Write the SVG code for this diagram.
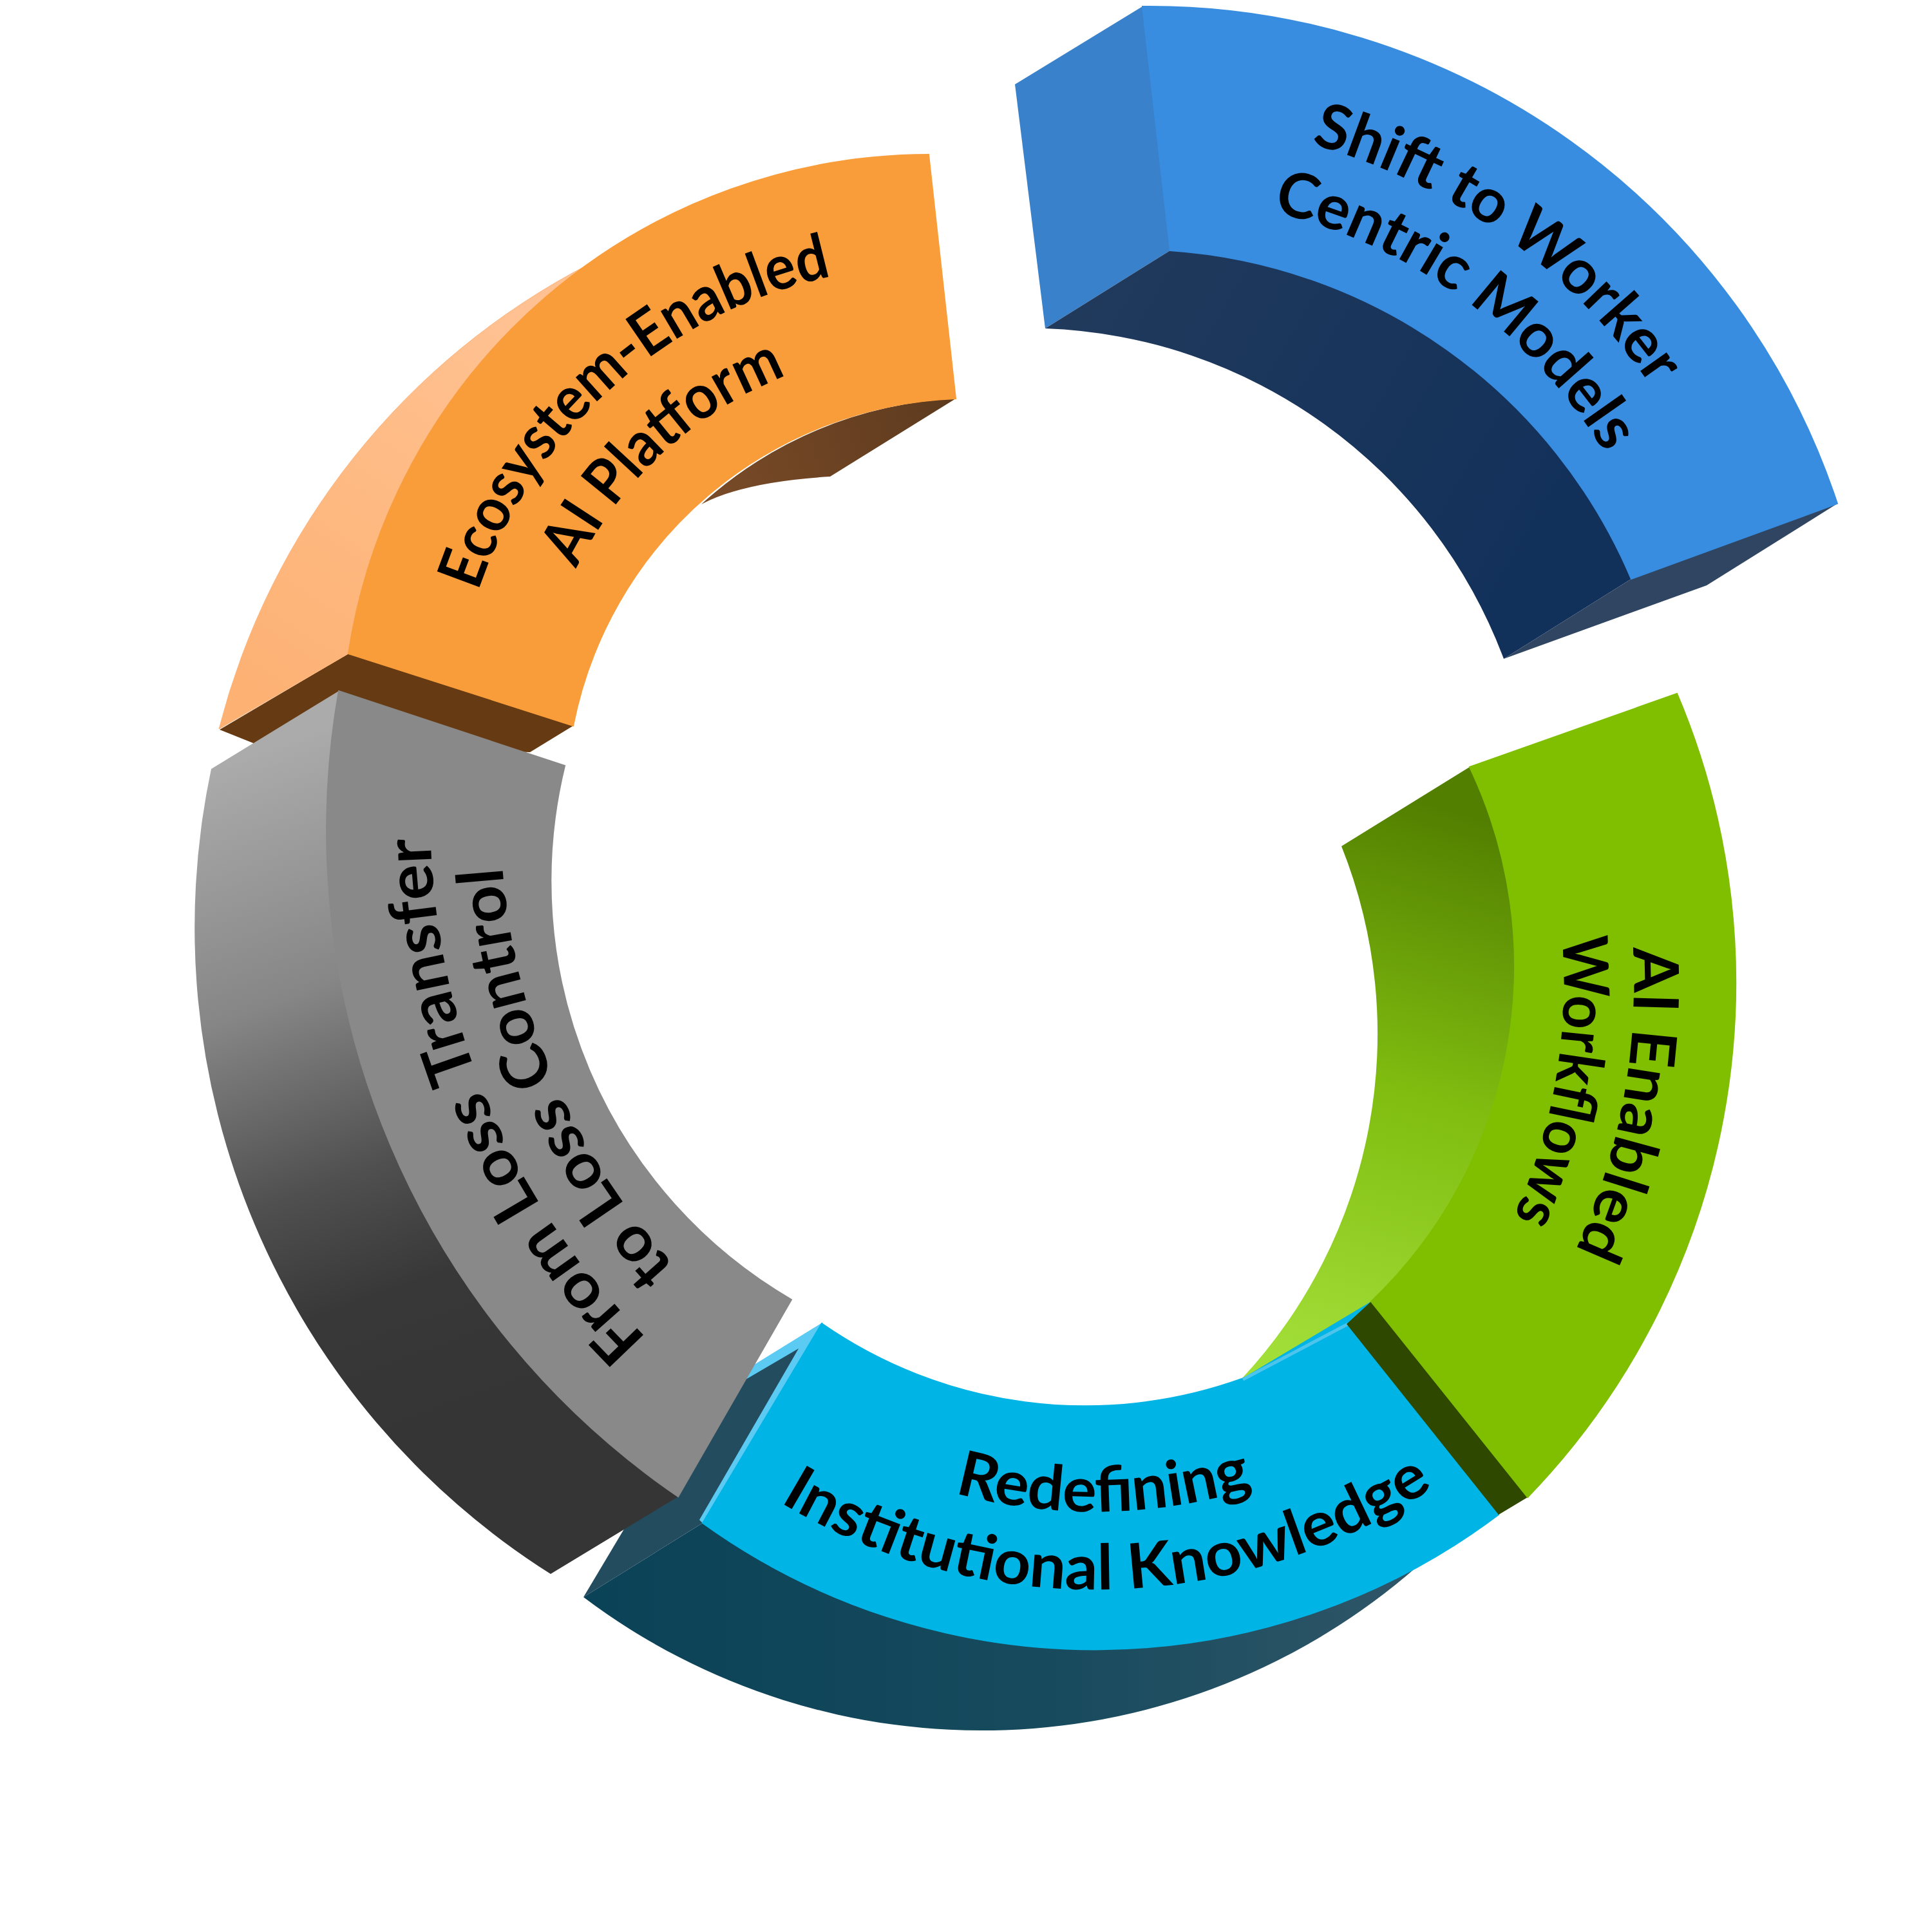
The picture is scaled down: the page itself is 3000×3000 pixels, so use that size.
<svg xmlns="http://www.w3.org/2000/svg" xmlns:xlink="http://www.w3.org/1999/xlink" width="3000" height="3000" viewBox="0 0 3000 3000">
<style>
.lbl{font-family:Lato,"Open Sans","DejaVu Sans",sans-serif;font-weight:700;font-size:97px;fill:#000}
</style>
<defs>
<linearGradient id="gOrLight" gradientUnits="userSpaceOnUse" x1="400" y1="1100" x2="800" y2="500"><stop offset="0" stop-color="#fdb173"/><stop offset="0.6" stop-color="#febb85"/><stop offset="1" stop-color="#ffc192"/></linearGradient>
<linearGradient id="gOrSide" gradientUnits="userSpaceOnUse" x1="1090" y1="780" x2="1480" y2="640"><stop offset="0" stop-color="#7a4b28"/><stop offset="1" stop-color="#5e3b1e"/></linearGradient>
<linearGradient id="gGray" gradientUnits="userSpaceOnUse" x1="330" y1="1190" x2="700" y2="2200"><stop offset="0" stop-color="#ababab"/><stop offset="0.35" stop-color="#868686"/><stop offset="0.62" stop-color="#505050"/><stop offset="0.8" stop-color="#383838"/><stop offset="1" stop-color="#353535"/></linearGradient>
<linearGradient id="gCyDark" gradientUnits="userSpaceOnUse" x1="900" y1="2500" x2="2200" y2="2500"><stop offset="0" stop-color="#0a4257"/><stop offset="0.55" stop-color="#174a5d"/><stop offset="1" stop-color="#2f5668"/></linearGradient>
<linearGradient id="gGrSide" gradientUnits="userSpaceOnUse" x1="2230" y1="1250" x2="1980" y2="2100"><stop offset="0" stop-color="#527f00"/><stop offset="0.5" stop-color="#80bd10"/><stop offset="1" stop-color="#a2de38"/></linearGradient>
<linearGradient id="gBlSide" gradientUnits="userSpaceOnUse" x1="1620" y1="500" x2="2400" y2="950"><stop offset="0" stop-color="#213a5c"/><stop offset="1" stop-color="#11305a"/></linearGradient>
<path id="tpB1" d="M1252,356 A943,943 0 0 1 2695,1385"/>
<path id="tpB2" d="M1324,448 A826,826 0 0 1 2580,1361"/>
<path id="tpO1" d="M756,1427 A741,741 0 0 1 1795,501"/>
<path id="tpO2" d="M879,1388 A612,612 0 0 1 1726,610"/>
<path id="tpG1" d="M1872,2406 A1137,1137 0 0 1 1024,445"/>
<path id="tpG2" d="M1866,2297 A1028,1028 0 0 1 1099,524"/>
<path id="tpC1" d="M926,1815 A829,829 0 0 0 2484,1788"/>
<path id="tpC2" d="M815,1863 A950,950 0 0 0 2600,1823"/>
<path id="tpW1" d="M2056,681 A986,986 0 0 1 1710,2501"/>
<path id="tpW2" d="M1987,767 A877,877 0 0 1 1708,2391"/>
</defs>
<rect width="3000" height="3000" fill="#ffffff"/>
<g id="connectors"/>

<g id="node-ecosystem">
<path d="M341,1133 L541,1015 L890,1127 L823,1168 L396,1155 Z" fill="#663a12"/>
<path d="M1484,619 L1289,740 Q1155,748 1089,783 A630,630 0 0 1 1484,619 Z" fill="url(#gOrSide)"/>
<path d="M340,1132 A1126,1126 0 0 1 915,410 A913,913 0 0 0 541,1015 Z" fill="url(#gOrLight)" stroke="#fdb57b" stroke-width="1"/>
<path d="M541,1015 A913,913 0 0 1 1442,240 L1484,619 A630,630 0 0 0 890,1127 Z" fill="#f99d3a" stroke="#f99d3a" stroke-width="2"/>
<text class="lbl"><textPath href="#tpO1" xlink:href="#tpO1" startOffset="50%" text-anchor="middle" textLength="770" lengthAdjust="spacingAndGlyphs">Ecosystem-Enabled</textPath></text>
<text class="lbl"><textPath href="#tpO2" xlink:href="#tpO2" startOffset="50%" text-anchor="middle" textLength="454" lengthAdjust="spacingAndGlyphs">AI Platform</textPath></text>
</g>

<g id="node-knowledge">
<path d="M906,2480 L1091,2365 A1043,1043 0 0 0 2200,2433 A1026,1026 0 0 1 906,2480 Z" fill="url(#gCyDark)"/>
<path d="M1091,2170 L1276,2055 L1091,2365 L906,2480 Z" fill="#244c5f"/>
<path d="M1150,2132 L1278,2053 L1093,2367 L1086,2360 L1240,2094 L1158,2142 Z" fill="#5ccbf4"/>
<path d="M1276,2055 A717,717 0 0 0 1928,2141 L2129,2021 L2327,2352 A1043,1043 0 0 1 1091,2365 Z" fill="#00b4e5" stroke="#00b4e5" stroke-width="2"/>
<text class="lbl"><textPath href="#tpC1" xlink:href="#tpC1" startOffset="50%" text-anchor="middle" textLength="470" lengthAdjust="spacingAndGlyphs">Redefining</textPath></text>
<text class="lbl"><textPath href="#tpC2" xlink:href="#tpC2" startOffset="50%" text-anchor="middle" textLength="1071" lengthAdjust="spacingAndGlyphs">Institutional Knowledge</textPath></text>
</g>

<g id="node-loss">
<path d="M328,1194 L526,1073 A1254,1254 0 0 0 1053,2324 L855,2444 A1188,1188 0 0 1 328,1194 Z" fill="url(#gGray)"/>
<path d="M526,1073 L877,1189 A752,752 0 0 0 1229,2018 L1053,2324 A1254,1254 0 0 1 526,1073 Z" fill="#898989" stroke="#898989" stroke-width="2"/>
<text class="lbl" style="font-size:100px"><textPath href="#tpG1" xlink:href="#tpG1" startOffset="50%" text-anchor="middle" textLength="868" lengthAdjust="spacingAndGlyphs">From Loss Transfer</textPath></text>
<text class="lbl" style="font-size:100px"><textPath href="#tpG2" xlink:href="#tpG2" startOffset="50%" text-anchor="middle" textLength="689" lengthAdjust="spacingAndGlyphs">to Loss Control</textPath></text>
</g>

<g id="node-workflows">
<path d="M2083,1314 L2282,1191 A719,719 0 0 1 2129,2021 L1928,2141 A785,785 0 0 0 2083,1314 Z" fill="url(#gGrSide)"/>
<path d="M1930,2142 L2093,2056" stroke="#4cc4ec" stroke-width="5" fill="none"/>
<path d="M2129,2021 L2372,2325 L2327,2352 L2091,2056 Z" fill="#2f4800"/>
<path d="M2282,1191 L2604,1077 A1150,1150 0 0 1 2372,2325 L2129,2021 A719,719 0 0 0 2282,1191 Z" fill="#7fbf00" stroke="#7fbf00" stroke-width="2"/>
<text class="lbl"><textPath href="#tpW1" xlink:href="#tpW1" startOffset="50%" text-anchor="middle" textLength="484" lengthAdjust="spacingAndGlyphs">AI Enabled</textPath></text>
<text class="lbl"><textPath href="#tpW2" xlink:href="#tpW2" startOffset="50%" text-anchor="middle" textLength="448" lengthAdjust="spacingAndGlyphs">Workflows</textPath></text>
</g>

<g id="node-shift">
<path d="M1576,131 L1774,10 L1817,389 L1623,510 Z" fill="#3a81cc"/>
<path d="M1623,510 L1817,389 A840,840 0 0 1 2533,899 L2335,1023 A791,791 0 0 0 1623,510 Z" fill="url(#gBlSide)"/>
<path d="M2533,899 L2853,782 L2650,909 L2335,1023 Z" fill="#2f4562"/>
<path d="M1774,10 A1125,1125 0 0 1 2853,782 L2533,899 A840,840 0 0 0 1817,389 Z" fill="#388de0" stroke="#388de0" stroke-width="2"/>
<text class="lbl"><textPath href="#tpB1" xlink:href="#tpB1" startOffset="50%" text-anchor="middle" textLength="663" lengthAdjust="spacingAndGlyphs">Shift to Worker</textPath></text>
<text class="lbl"><textPath href="#tpB2" xlink:href="#tpB2" startOffset="50%" text-anchor="middle" textLength="656" lengthAdjust="spacingAndGlyphs">Centric Models</textPath></text>
</g>
</svg>
